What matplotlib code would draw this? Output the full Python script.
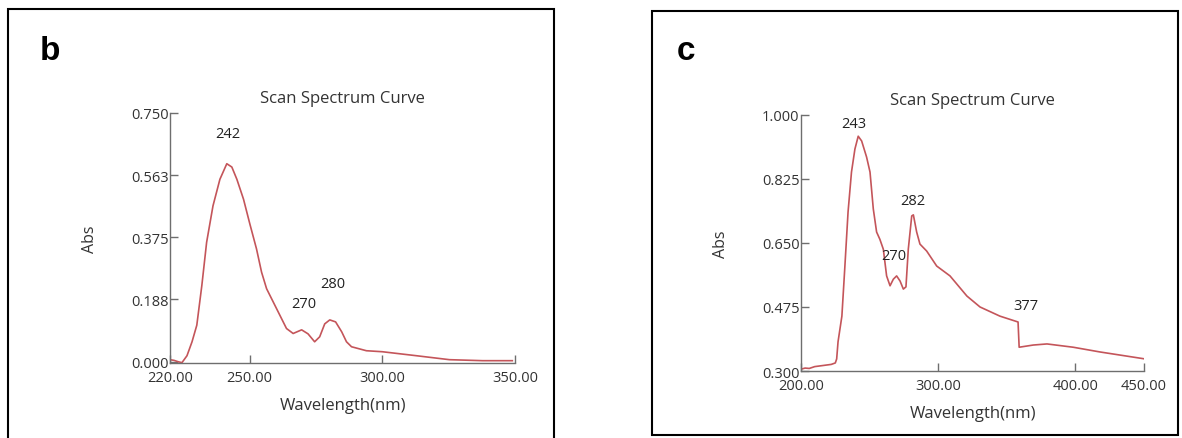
import matplotlib
matplotlib.use("Agg")
import matplotlib.pyplot as plt
from matplotlib.patches import Rectangle

plt.rcParams['font.family'] = ['Open Sans', 'DejaVu Sans']

# panel b spectrum
wl_b = [220, 221.5, 223, 224.5, 226.4, 228.3, 230.1, 232, 233.8, 236.2, 238.8, 241.4,
        243.3, 245.2, 247.7, 250.1, 252.6, 254.5, 256.4, 258.9, 261.4, 263.9, 266.4,
        269.6, 272, 274.5, 276.4, 278.3, 280.2, 282.4, 284.7, 286.5, 288.4, 294, 300,
        312.8, 325.3, 337.8, 349]
abs_b = [0.006, 0.004, 0.0, -0.003, 0.018, 0.06, 0.11, 0.23, 0.36, 0.47, 0.55, 0.597,
         0.587, 0.55, 0.49, 0.415, 0.34, 0.27, 0.22, 0.18, 0.14, 0.10, 0.085,
         0.096, 0.084, 0.06, 0.075, 0.114, 0.126, 0.12, 0.09, 0.06, 0.045, 0.033, 0.03,
         0.018, 0.006, 0.003, 0.003]

# panel c spectrum
wl_c = [200, 203, 206, 210, 214, 218, 222, 225, 226, 227, 229.8, 232, 234.3, 236.8,
        239.3, 241.7, 244.2, 247.8, 250.3, 252.7, 255.1, 257.5, 260, 262.4, 264.9,
        267.3, 269.7, 272.2, 274.6, 276.5, 278.2, 280.7, 281.9, 284.3, 286.7, 291.6,
        298.9, 308.6, 320.9, 330.5, 345, 358.2, 359, 369.3, 379.3, 398.4, 418, 450.7]
abs_c = [0.305, 0.308, 0.307, 0.312, 0.314, 0.316, 0.318, 0.322, 0.333, 0.38, 0.45,
         0.587, 0.735, 0.844, 0.907, 0.942, 0.929, 0.885, 0.844, 0.743, 0.68, 0.66,
         0.633, 0.56, 0.533, 0.551, 0.56, 0.546, 0.524, 0.53, 0.633, 0.724, 0.727,
         0.68, 0.647, 0.628, 0.587, 0.56, 0.505, 0.475, 0.45, 0.434, 0.365, 0.371,
         0.374, 0.365, 0.352, 0.333]

b_yticks = [0.000, 0.188, 0.375, 0.563, 0.750]
b_xticks = [220, 250, 300, 350]
c_yticks = [0.300, 0.475, 0.650, 0.825, 1.000]
c_xticks = [200, 300, 400, 450]

b_peaks = ["242", "270", "280"]
c_peaks = ["243", "282", "270", "377"]

W, H = 1182, 439
fig = plt.figure(figsize=(W / 100, H / 100), dpi=100)

line_color = "#c4555a"
spine_color = "#6e6e6e"
text_color = "#333333"


def px(x, y):
    return x / W, 1 - y / H


def style_axes(ax, xticks, yticks):
    for s in ["top", "right"]:
        ax.spines[s].set_visible(False)
    for s in ["left", "bottom"]:
        ax.spines[s].set_color(spine_color)
        ax.spines[s].set_linewidth(1.0)
    ax.set_xticks(xticks)
    ax.set_xticklabels([f"{t:.2f}" for t in xticks])
    ax.set_yticks(yticks)
    ax.set_yticklabels([f"{t:.3f}" for t in yticks])
    ax.tick_params(axis='both', direction='in', length=6, width=1, color=spine_color,
                   labelsize=10.5, labelcolor=text_color)
    ax.tick_params(axis='x', pad=5)
    ax.tick_params(axis='y', pad=1)
    ax.set_title("Scan Spectrum Curve", fontsize=12, color=text_color, pad=8)
    ax.set_xlabel("Wavelength(nm)", fontsize=12, color=text_color, labelpad=9)
    ax.set_ylabel("Abs", fontsize=11.5, color=text_color, labelpad=24)


# borders
x0, y0 = px(8, 445)
x1, y1 = px(554, 10)
fig.patches.append(Rectangle((x0, y0), x1 - x0, y1 - y0, transform=fig.transFigure,
                             fill=False, edgecolor="black", linewidth=1.5))
x0, y0 = px(652, 436)
x1, y1 = px(1178, 12)
fig.patches.append(Rectangle((x0, y0), x1 - x0, y1 - y0, transform=fig.transFigure,
                             fill=False, edgecolor="black", linewidth=1.5))

# panel b
l, b_ = px(170, 364)
r, t = px(515, 114)
ax_b = fig.add_axes([l, b_, r - l, t - b_])
ax_b.plot(wl_b, abs_b, color=line_color, linewidth=1.2)
ax_b.set_xlim(220, 350)
ax_b.set_ylim(-0.004, 0.75)
style_axes(ax_b, b_xticks, b_yticks)
for lab, (x, y) in zip(b_peaks, [(228, 135), (304, 305), (333, 285)]):
    fig.text(*px(x, y), lab, ha='center', va='center', fontsize=10.5, color="#222222")
fig.text(*px(50, 52), "b", ha='center', va='center', fontsize=24, fontweight='bold',
         family=['Liberation Sans', 'DejaVu Sans'])

# panel c
l, b_ = px(801, 372)
r, t = px(1144, 116)
ax_c = fig.add_axes([l, b_, r - l, t - b_])
ax_c.plot(wl_c, abs_c, color=line_color, linewidth=1.2)
ax_c.set_xlim(200, 450)
ax_c.set_ylim(0.3, 1.0)
style_axes(ax_c, c_xticks, c_yticks)
for lab, (x, y) in zip(c_peaks, [(854, 125), (913, 202), (894, 257), (1026, 307)]):
    fig.text(*px(x, y), lab, ha='center', va='center', fontsize=10.5, color="#222222")
fig.text(*px(686, 52), "c", ha='center', va='center', fontsize=24, fontweight='bold',
         family=['Liberation Sans', 'DejaVu Sans'])

fig.savefig("out.png", dpi=100)
